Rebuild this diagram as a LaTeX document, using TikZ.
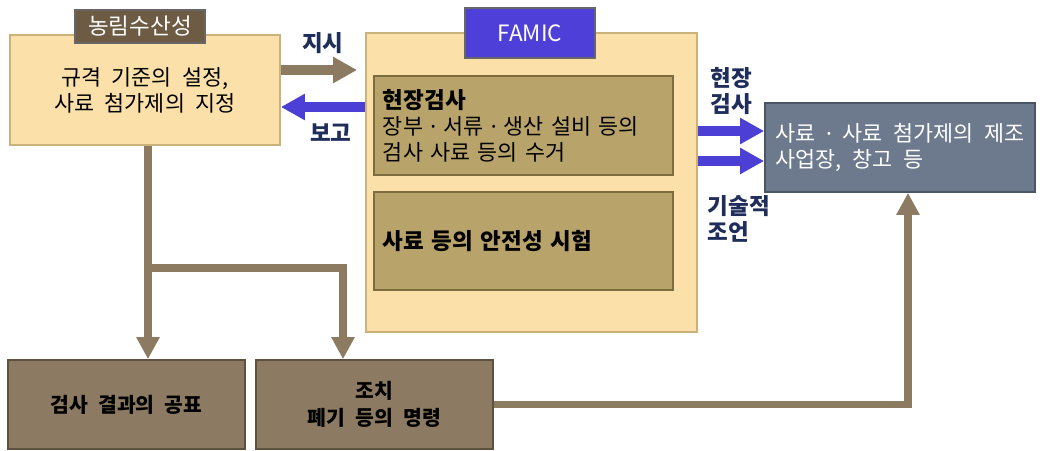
\documentclass[tikz,border=0pt]{standalone}
\usepackage{fontspec}
\setmainfont[WordSpace=2.2]{Noto Sans CJK KR}
\newfontfamily\dotfont{Noto Sans}
\usepackage{xcolor}
\usepackage{tikz}
\usetikzlibrary{arrows.meta}
\definecolor{paper}{HTML}{FBE1A9}
\definecolor{paperedge}{HTML}{C9B27C}
\definecolor{tagbrown}{HTML}{6E5B44}
\definecolor{famicblue}{HTML}{4F3FD9}
\definecolor{khaki}{HTML}{B8A36B}
\definecolor{khakiedge}{HTML}{7D6C3E}
\definecolor{slate}{HTML}{6D7A8D}
\definecolor{slateedge}{HTML}{4A5566}
\definecolor{result}{HTML}{8C7B62}
\definecolor{resultedge}{HTML}{5E5140}
\definecolor{arrowbrown}{HTML}{8C7B61}
\definecolor{arrowblue}{HTML}{4B3FD6}
\definecolor{navy}{HTML}{1F2D5A}
\newcommand\txtsize{\fontsize{15.5}{18.5}\selectfont}
\newcommand\mdot{{\dotfont ·}}
\tikzset{
  % node options
  paperbox/.style={rectangle,draw=paperedge,fill=paper,line width=1.2pt,font=\txtsize},
  tag/.style={rectangle,draw=black!60,line width=0.8pt,text=white,font=\fontsize{16}{18}\selectfont},
  innerbox/.style={rectangle,draw=khakiedge,fill=khaki,line width=1.5pt,font=\txtsize,
    minimum width=7.475cm,text width=7.025cm,inner xsep=0.225cm,align=left},
  sitebox/.style={rectangle,draw=slateedge,fill=slate,line width=1.2pt,text=white,font=\txtsize,
    minimum width=6.75cm,minimum height=2.225cm,align=left},
  resultbox/.style={rectangle,draw=resultedge,fill=result,line width=1.2pt,
    minimum width=5.925cm,minimum height=2.225cm,align=center,
    font=\fontsize{14.5}{19}\selectfont\bfseries},
  lbl/.style={text=navy,font=\fontsize{16}{18.5}\selectfont\bfseries,align=left,inner sep=1pt},
  % path options
  flow/.style={draw=arrowbrown,line width=5pt,-{Triangle[width=0.55cm,length=0.55cm]}},
  instr/.style={flow,line width=7pt,-{Triangle[width=0.62cm,length=0.6cm]}},
  report/.style={instr,draw=arrowblue},
}
\begin{document}
\begin{tikzpicture}[x=0.025cm,y=-0.025cm]
  \useasboundingbox (0,0) rectangle (1042,450);
  % ministry
  \node[paperbox,minimum width=6.75cm,minimum height=2.75cm,align=center] (maff) at (145,90)
    {규격 기준의 설정,\\사료 첨가제의 지정};
  \node[tag,fill=tagbrown,minimum width=3.25cm,minimum height=0.825cm] (maffTag) at (140,26.5) {농림수산성};
  % FAMIC
  \node[paperbox,minimum width=8.275cm,minimum height=7.475cm] (famic) at (531.5,182.5) {};
  \node[tag,fill=famicblue,minimum width=3.25cm,minimum height=1.25cm] (famicTag) at (530,33) {FAMIC};
  \node[innerbox,minimum height=2.475cm] (onsite) at (523.5,125.5)
    {{\fontsize{16}{18}\selectfont\bfseries 현장검사}\\장부 \mdot{} 서류 \mdot{} 생산 설비 등의\\검사 사료 등의 수거};
  \node[innerbox,minimum height=2.45cm,font=\fontsize{16}{18.5}\selectfont\bfseries] (safety) at (523.5,241)
    {사료 등의 안전성 시험};
  % site
  \node[sitebox] (site) at (900,147.5) {사료 \mdot{} 사료 첨가제의 제조\\사업장, 창고 등};
  % results
  \node[resultbox] (publish) at (126.5,404.5) {검사 결과의 공표};
  \node[resultbox] (order) at (374.5,404.5) {조치\\폐기 등의 명령};
  \coordinate (split) at (148,268);

  \draw[instr,shorten >=0.2cm] (maff.east |- 0,70) -- node[lbl,above=0.25cm] {지시} (famic.west |- 0,70);
  \draw[report] (famic.west |- 0,107) -- node[lbl,below=0.25cm,xshift=0.2cm] {보고} (maff.east |- 0,107);
  \draw[report] (famic.east |- 0,131) -- node[lbl,above=0.25cm] {현장\\검사} (site.west |- 0,131);
  \draw[report] (famic.east |- 0,161) -- node[lbl,below=0.7cm,xshift=0.2cm] {기술적\\조언} (site.west |- 0,161);
  \draw[flow] (maff.south -| split) -- (publish.north -| split);
  \draw[flow] (split) -| (order.north -| 343,0);
  \draw[flow] (order.east) -| (site.south -| 908,0);
\end{tikzpicture}
\end{document}
